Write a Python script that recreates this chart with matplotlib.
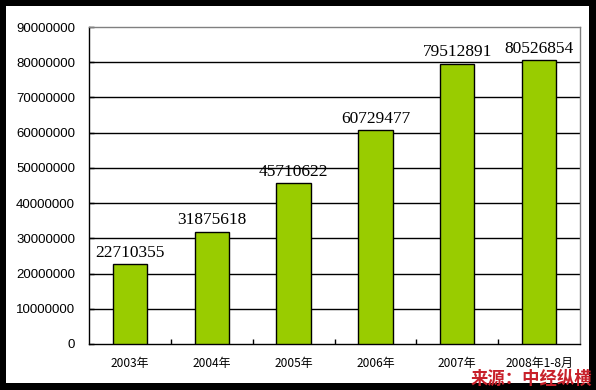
import matplotlib.pyplot as plt
from matplotlib.patches import Rectangle

years = ['2003年', '2004年', '2005年', '2006年', '2007年', '2008年1-8月']
values = [22710355, 31875618, 45710622, 60729477, 79512891, 80526854]
yticks = [0, 10000000, 20000000, 30000000, 40000000, 50000000,
          60000000, 70000000, 80000000, 90000000]

bar_color = '#99CC00'
frame_gray = '#808080'

fig = plt.figure(figsize=(5.96, 3.90), dpi=100)
fig.patch.set_facecolor('white')

# black picture border
W, H = 596.0, 390.0
fig.patches.append(Rectangle((0, 0), 1, 1, transform=fig.transFigure,
                             facecolor='black', edgecolor='none', zorder=-10))
fig.patches.append(Rectangle((6 / W, 7 / H), (589 - 6) / W, (383 - 6) / H,
                             transform=fig.transFigure, facecolor='white',
                             edgecolor='none', zorder=-9))

ax = fig.add_axes([89 / W, (H - 344) / H, (580 - 89) / W, (344 - 27) / H])
ax.set_facecolor('white')

x = list(range(len(years)))
bars = ax.bar(x, values, width=0.42, color=bar_color, edgecolor='black',
              linewidth=1.0, zorder=3)

for xi, v in zip(x, values):
    ax.annotate(str(v), (xi, v), xytext=(0, 2.5), textcoords='offset points',
                ha='center', va='bottom', family='Liberation Serif',
                fontsize=12.5, color='black', zorder=4)

ax.set_xlim(-0.5, len(years) - 0.5)
ax.set_ylim(0, 90000000)
ax.set_yticks(yticks)
ax.set_yticklabels([str(t) for t in yticks], family='Liberation Sans',
                   fontsize=9.5)
for t in yticks[1:-1]:
    ax.axhline(t, color='black', linewidth=1.0, zorder=1)

ax.set_xticks(x)
ax.set_xticklabels(years, family=['Noto Sans CJK SC', 'DejaVu Sans'],
                   fontsize=8.6)
ax.set_xticks([i + 0.5 for i in x[:-1]], minor=True)
ax.tick_params(axis='x', which='major', length=0, pad=9.5)
ax.tick_params(axis='x', which='minor', direction='in', length=3.5,
               width=1, color='black')
ax.tick_params(axis='y', direction='in', length=3.5, width=1,
               color='black', pad=10)

for side in ['left', 'bottom']:
    ax.spines[side].set_color('black')
    ax.spines[side].set_linewidth(1.0)
for side in ['top', 'right']:
    ax.spines[side].set_color(frame_gray)
    ax.spines[side].set_linewidth(1.0)

fig.text(592 / W, (H - 379) / H, '来源：中经纵横', ha='right', va='center',
         family=['Noto Sans CJK SC', 'DejaVu Sans'], fontsize=12.5,
         fontweight='bold', color='#C8202A')

fig.savefig('out.png', dpi=100, facecolor=fig.get_facecolor())
